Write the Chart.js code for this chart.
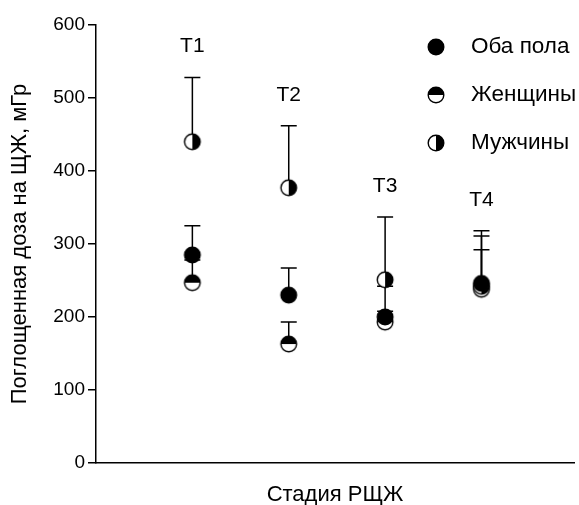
<!DOCTYPE html>
<html>
<head>
<meta charset="utf-8">
<script src="https://cdn.jsdelivr.net/npm/chart.js@4.4.1/dist/chart.umd.min.js"></script>
<style>
  html, body { margin: 0; padding: 0; background: #fff; }
  #wrap { width: 579px; height: 505px; }
</style>
</head>
<body>
<div id="wrap"><canvas id="chart"></canvas></div>
<script>
// Поглощенная доза на ЩЖ по стадиям РЩЖ
var stages = ['T1', 'T2', 'T3', 'T4'];
var seriesNames = ['Оба пола', 'Мужчины', 'Женщины'];

var bothMean  = [285, 230, 200, 246];
var bothUpper = [325, 267, 242, 292];
var menMean   = [440, 377, 251, 242];
var menUpper  = [528, 462, 337, 318];
var womenMean  = [247, 163, 193, 238];
var womenUpper = [278, 193, 208, 311];

var yTicks = [0, 100, 200, 300, 400, 500, 600];

var FONT = "'Liberation Sans', Arial, sans-serif";

// half-filled circle markers
function marker(kind) {
  var c = document.createElement('canvas');
  c.width = 20; c.height = 20;
  var g = c.getContext('2d');
  var r = 7.8;
  g.beginPath(); g.arc(10, 10, r, 0, Math.PI * 2);
  g.fillStyle = '#fff'; g.fill();
  g.fillStyle = '#000';
  g.beginPath();
  if (kind === 'both') g.arc(10, 10, r, 0, Math.PI * 2);
  if (kind === 'women') g.arc(10, 10, r, Math.PI, 0);
  if (kind === 'men') g.arc(10, 10, r, -Math.PI / 2, Math.PI / 2);
  g.closePath(); g.fill();
  g.beginPath(); g.arc(10, 10, r, 0, Math.PI * 2);
  g.lineWidth = 1.4; g.strokeStyle = '#000'; g.stroke();
  return c;
}
var markers = { both: marker('both'), men: marker('men'), women: marker('women') };

function pts(arr) {
  return arr.map(function (v, i) { return { x: i + 1, y: v }; });
}

var uppers = [bothUpper, menUpper, womenUpper];
var means = [bothMean, menMean, womenMean];

var errorBars = {
  id: 'errorBars',
  beforeDatasetsDraw: function (chart) {
    var ctx = chart.ctx, xs = chart.scales.x, ys = chart.scales.y;
    ctx.save();
    ctx.strokeStyle = '#000';
    ctx.lineWidth = 1.5;
    for (var s = 0; s < means.length; s++) {
      for (var i = 0; i < stages.length; i++) {
        var x = xs.getPixelForValue(i + 1);
        var y0 = ys.getPixelForValue(means[s][i]);
        var y1 = ys.getPixelForValue(uppers[s][i]);
        ctx.beginPath();
        ctx.moveTo(x, y0); ctx.lineTo(x, y1);
        ctx.moveTo(x - 8, y1); ctx.lineTo(x + 8, y1);
        ctx.stroke();
      }
    }
    ctx.restore();
  },
  afterDatasetsDraw: function (chart) {
    var ctx = chart.ctx, xs = chart.scales.x, ys = chart.scales.y;
    ctx.save();
    ctx.fillStyle = '#000';
    ctx.font = '21px ' + FONT;
    ctx.textAlign = 'center';
    ctx.textBaseline = 'middle';
    for (var i = 0; i < stages.length; i++) {
      var top = Math.max(bothUpper[i], menUpper[i], womenUpper[i]);
      ctx.fillText(stages[i], xs.getPixelForValue(i + 1), ys.getPixelForValue(top) - 31);
    }
    // legend
    var keys = ['both', 'women', 'men'];
    var names = ['Оба пола', 'Женщины', 'Мужчины'];
    ctx.textAlign = 'left';
    ctx.font = '22.5px ' + FONT;
    for (var k = 0; k < keys.length; k++) {
      var ly = 47 + k * 48;
      ctx.drawImage(markers[keys[k]], 436 - 10, ly - 10);
      ctx.fillText(names[k], 471, ly);
    }
    ctx.restore();
  }
};

new Chart(document.getElementById('chart'), {
  type: 'scatter',
  data: {
    datasets: [
      { label: seriesNames[0], data: pts(bothMean), pointStyle: markers.both },
      { label: seriesNames[1], data: pts(menMean), pointStyle: markers.men },
      { label: seriesNames[2], data: pts(womenMean), pointStyle: markers.women }
    ]
  },
  options: {
    responsive: true,
    maintainAspectRatio: false,
    animation: false,
    layout: { padding: { left: 0, right: 5, top: 25, bottom: 0 } },
    plugins: { legend: { display: false }, tooltip: { enabled: false } },
    scales: {
      x: {
        type: 'linear', min: 0, max: 4.96,
        afterFit: function (axis) { axis.height = 42; },
        grid: { display: false },
        ticks: { display: false },
        border: { display: true, color: '#000', width: 1.5 },
        title: { display: true, text: 'Стадия РЩЖ', color: '#000',
                 font: { family: FONT, size: 22 }, padding: { top: 0, bottom: -3 } }
      },
      y: {
        min: 0, max: 600,
        afterFit: function (axis) { axis.width = 96; },
        afterBuildTicks: function (axis) {
          axis.ticks = yTicks.map(function (v) { return { value: v }; });
        },
        grid: { display: true, drawOnChartArea: false, drawTicks: true, tickLength: 8,
                color: '#000', lineWidth: 1.5 },
        border: { display: true, color: '#000', width: 1.5 },
        ticks: { color: '#000', padding: 3, font: { family: FONT, size: 19 } },
        title: { display: true, text: 'Поглощенная доза на ЩЖ, мГр', color: '#000',
                 font: { family: FONT, size: 22 }, padding: { top: 7, bottom: 0 } }
      }
    }
  },
  plugins: [errorBars]
});
</script>
</body>
</html>
